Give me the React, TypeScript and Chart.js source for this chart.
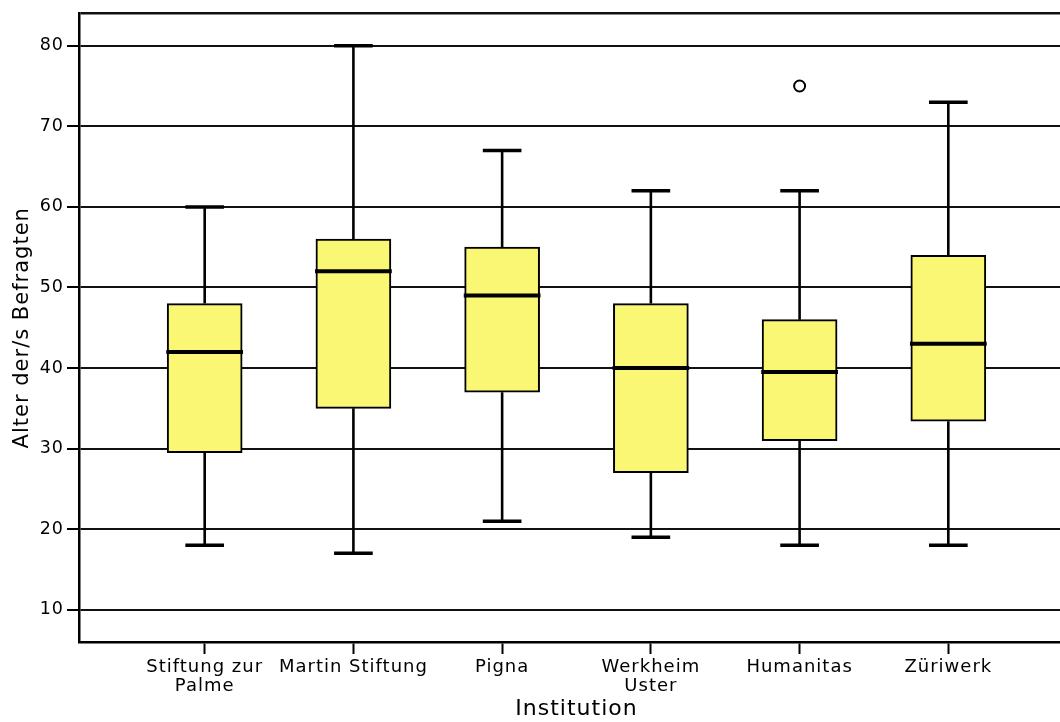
import { useEffect, useRef } from 'react';
import { Chart, registerables } from 'chart.js';

Chart.register(...registerables);

// ---- data ----
const categories: (string | string[])[] = [
  ['Stiftung zur', 'Palme'],
  'Martin Stiftung',
  'Pigna',
  ['Werkheim', 'Uster'],
  'Humanitas',
  'Züriwerk',
];
const whiskerLow = [18, 17, 21, 19, 18, 18];
const quartile1 = [29.5, 35, 37, 27, 31, 33.4];
const medians = [42, 52, 49, 40, 39.5, 43];
const quartile3 = [48, 56, 55, 48, 46, 54];
const whiskerHigh = [60, 80, 67, 62, 62, 73];
const outlierCategory = [4];
const outlierValue = [75];
const yTickValues = [10, 20, 30, 40, 50, 60, 70, 80];
const yMin = 6;
const yMax = 84;
const xMin = -0.845;
const xMax = 5.845;
const xTitle = 'Institution';
const yTitle = 'Alter der/s Befragten';

// ---- styles ----
const BOX_FILL = '#faf774';
const CAP_HALF = 0.13;
const MEDIAN_HALF = 0.258;
const FONT = 'DejaVu Sans';

type P = { x: number; y: number | null };

function buildWhiskers(): P[] {
  const pts: P[] = [];
  categories.forEach((_, i) => {
    pts.push({ x: i, y: quartile3[i] }, { x: i, y: whiskerHigh[i] }, { x: i, y: null });
    pts.push({ x: i, y: whiskerLow[i] }, { x: i, y: quartile1[i] }, { x: i, y: null });
  });
  return pts;
}
function buildCaps(): P[] {
  const pts: P[] = [];
  categories.forEach((_, i) => {
    pts.push({ x: i - CAP_HALF, y: whiskerHigh[i] }, { x: i + CAP_HALF, y: whiskerHigh[i] }, { x: i, y: null });
    pts.push({ x: i - CAP_HALF, y: whiskerLow[i] }, { x: i + CAP_HALF, y: whiskerLow[i] }, { x: i, y: null });
  });
  return pts;
}
function buildMedians(): P[] {
  const pts: P[] = [];
  categories.forEach((_, i) => {
    pts.push({ x: i - MEDIAN_HALF, y: medians[i] }, { x: i + MEDIAN_HALF, y: medians[i] }, { x: i, y: null });
  });
  return pts;
}

const letterSpacingPlugin = {
  id: 'letterSpacingPlugin',
  beforeLayout(chart: any) {
    chart.ctx.letterSpacing = '1px';
  },
  beforeDraw(chart: any) {
    chart.ctx.letterSpacing = '1px';
  },
};

export default function App() {
  const ref = useRef<HTMLCanvasElement | null>(null);

  useEffect(() => {
    if (!ref.current) return;
    Chart.defaults.font.family = FONT;
    Chart.defaults.color = '#000';
    const chart = new Chart(ref.current, {
      type: 'bar',
      data: {
        datasets: [
          {
            type: 'bar',
            label: 'box',
            data: categories.map((_, i) => ({ x: i, y: [quartile1[i], quartile3[i]] })) as any,
            backgroundColor: BOX_FILL,
            borderColor: '#000',
            borderWidth: 2,
            borderSkipped: false,
            barThickness: 75,
            order: 3,
          } as any,
          {
            type: 'line',
            label: 'whiskers',
            data: buildWhiskers() as any,
            borderColor: '#000',
            borderWidth: 2.6,
            pointRadius: 0,
            spanGaps: false,
            fill: false,
            tension: 0,
            borderCapStyle: 'butt',
            order: 2,
          } as any,
          {
            type: 'line',
            label: 'caps',
            data: buildCaps() as any,
            borderColor: '#000',
            borderWidth: 3.5,
            pointRadius: 0,
            spanGaps: false,
            fill: false,
            tension: 0,
            borderCapStyle: 'butt',
            order: 1,
          } as any,
          {
            type: 'line',
            label: 'medians',
            data: buildMedians() as any,
            borderColor: '#000',
            borderWidth: 4,
            pointRadius: 0,
            spanGaps: false,
            fill: false,
            tension: 0,
            borderCapStyle: 'butt',
            order: 0,
          } as any,
          {
            type: 'scatter',
            label: 'outliers',
            data: outlierCategory.map((c, k) => ({ x: c, y: outlierValue[k] })) as any,
            pointRadius: 5.5,
            pointBorderWidth: 2,
            borderColor: '#000',
            backgroundColor: '#fff',
            pointBackgroundColor: '#fff',
            pointBorderColor: '#000',
            order: 0,
          } as any,
        ],
      },
      options: {
        animation: false,
        responsive: false,
        devicePixelRatio: 1,
        events: [],
        layout: { padding: { top: 12, right: 26, bottom: 0, left: 0 } },
        plugins: {
          legend: { display: false },
          tooltip: { enabled: false },
        },
        scales: {
          x: {
            type: 'linear',
            min: xMin,
            max: xMax,
            offset: false,
            afterBuildTicks: (s: any) => {
              s.ticks = categories.map((_, i) => ({ value: i }));
            },
            afterFit: (s: any) => {
              s.height = 80;
            },
            ticks: {
              callback: (_v: any, index: number) => categories[index] as any,
              font: { family: FONT, size: 18, lineHeight: 1.1 },
              color: '#000',
              padding: 3,
              maxRotation: 0,
              minRotation: 0,
              autoSkip: false,
            },
            grid: {
              drawOnChartArea: false,
              drawTicks: true,
              tickLength: 12,
              tickWidth: 2,
              tickColor: '#000',
              offset: false,
            },
            border: { display: true, color: '#000', width: 2.5 },
            title: {
              display: true,
              text: xTitle,
              font: { family: FONT, size: 22 },
              color: '#000',
              padding: { top: 0, bottom: 0 },
            },
          } as any,
          y: {
            type: 'linear',
            min: yMin,
            max: yMax,
            afterBuildTicks: (s: any) => {
              s.ticks = [...yTickValues, yMax].map((v) => ({ value: v }));
            },
            afterFit: (s: any) => {
              s.width = 79;
            },
            ticks: {
              callback: (v: any) => (v === yMax ? '' : String(v)),
              font: { family: FONT, size: 17.5 },
              color: '#000',
              padding: 3,
            },
            grid: {
              color: '#111',
              lineWidth: (ctx: any) => (ctx.tick && ctx.tick.value === yMax ? 2.5 : 2),
              drawTicks: true,
              tickLength: 12,
              tickWidth: 2,
              tickColor: (ctx: any) => (ctx.tick && ctx.tick.value === yMax ? 'rgba(0,0,0,0)' : '#000'),
            },
            border: { display: true, color: '#000', width: 2.5 },
            title: {
              display: true,
              text: yTitle,
              font: { family: FONT, size: 21 },
              color: '#000',
              padding: { top: 10, bottom: 0 },
            },
          } as any,
        },
      },
      plugins: [letterSpacingPlugin as any],
    });
    return () => chart.destroy();
  }, []);

  return (
    <div
      style={{
        position: 'fixed',
        left: 0,
        top: 0,
        width: 1060,
        height: 722,
        overflow: 'hidden',
        background: '#fff',
      }}
    >
      <canvas ref={ref} width={1100} height={722} style={{ display: 'block' }} />
    </div>
  );
}
